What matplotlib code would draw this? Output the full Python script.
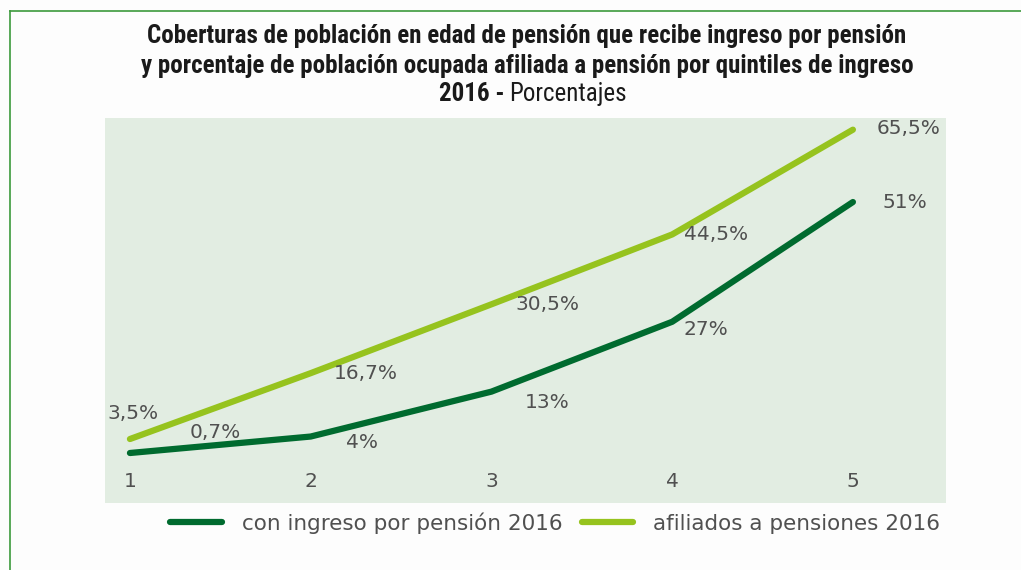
import matplotlib
matplotlib.use("Agg")
import matplotlib.pyplot as plt
from matplotlib.lines import Line2D

quintiles = [1, 2, 3, 4, 5]
tick_labels = ["1", "2", "3", "4", "5"]
con_ingreso = [0.7, 4, 13, 27, 51]
afiliados = [3.5, 16.7, 30.5, 44.5, 65.5]
con_ingreso_labels = ["0,7%", "4%", "13%", "27%", "51%"]
afiliados_labels = ["3,5%", "16,7%", "30,5%", "44,5%", "65,5%"]
series_names = ["con ingreso por pensión 2016", "afiliados a pensiones 2016"]

plt.rcParams["font.family"] = ["DejaVu Sans"]

dark = "#006b2f"
light = "#96c31e"
txt = "#505050"

fig = plt.figure(figsize=(10.21, 5.70), dpi=100)
fig.patch.set_facecolor("#fdfdfd")

ax = fig.add_axes([105/1021, 1-503/570, (946-105)/1021, (503-118)/570])
ax.set_facecolor("#e2ede2")
for s in ax.spines.values():
    s.set_visible(False)

ax.plot(quintiles, con_ingreso, color=dark, lw=4.5, solid_capstyle="round", solid_joinstyle="round", zorder=3)
ax.plot(quintiles, afiliados, color=light, lw=4.5, solid_capstyle="round", solid_joinstyle="round", zorder=3)

ax.set_xlim(0.862, 5.515)
ax.set_ylim(-9.32, 67.84)
ax.set_yticks([])
ax.set_xticks(quintiles)
ax.set_xticklabels(tick_labels)
ax.tick_params(axis="x", length=0, pad=-22, labelsize=14.5, labelcolor=txt)

off_light = [(3, 26), (55, 0), (56, 0), (44, 0), (56, 1)]
off_dark = [(85, 21), (51, -6), (56, -11), (34, -8), (52, 0)]
for x, y, l, o in zip(quintiles, afiliados, afiliados_labels, off_light):
    ax.annotate(l, (x, y), xytext=o, textcoords="offset pixels", ha="center", va="center",
                fontsize=14.5, color=txt, zorder=4)
for x, y, l, o in zip(quintiles, con_ingreso, con_ingreso_labels, off_dark):
    ax.annotate(l, (x, y), xytext=o, textcoords="offset pixels", ha="center", va="center",
                fontsize=14.5, color=txt, zorder=4)

handles = [Line2D([], [], color=dark, lw=4.5, solid_capstyle="round"),
           Line2D([], [], color=light, lw=4.5, solid_capstyle="round")]
leg = fig.legend(handles, series_names, loc="center", bbox_to_anchor=(555/1021, 1-523/570),
                 ncol=2, frameon=False, fontsize=15.5, handlelength=2.4, handletextpad=0.9,
                 columnspacing=0.9)
for t in leg.get_texts():
    t.set_color(txt)

tfam = ["Roboto Condensed", "DejaVu Sans Condensed", "Liberation Sans Narrow", "Roboto", "DejaVu Sans"]
tkw = dict(fontsize=18, family=tfam, color="#1a1a1a", fontstretch="condensed")
fig.text(527/1021, 1-36/570, "Coberturas de población en edad de pensión que recibe ingreso por pensión",
         ha="center", va="center", fontweight="bold", **tkw)
fig.text(527/1021, 1-66/570, "y porcentaje de población ocupada afiliada a pensión por quintiles de ingreso",
         ha="center", va="center", fontweight="bold", **tkw)
fig.text(504/1021, 1-94/570, "2016 -", ha="right", va="center", fontweight="bold", **tkw)
fig.text(509/1021, 1-94/570, "Porcentajes", ha="left", va="center", **tkw)

fig.add_artist(Line2D([9.5/1021, 9.5/1021], [0, 1-11/570], color="#3c9a3c", lw=1.2))
fig.add_artist(Line2D([9.5/1021, 1], [1-11/570, 1-11/570], color="#3c9a3c", lw=1.2))

fig.savefig("out.png", dpi=100, facecolor=fig.get_facecolor())
